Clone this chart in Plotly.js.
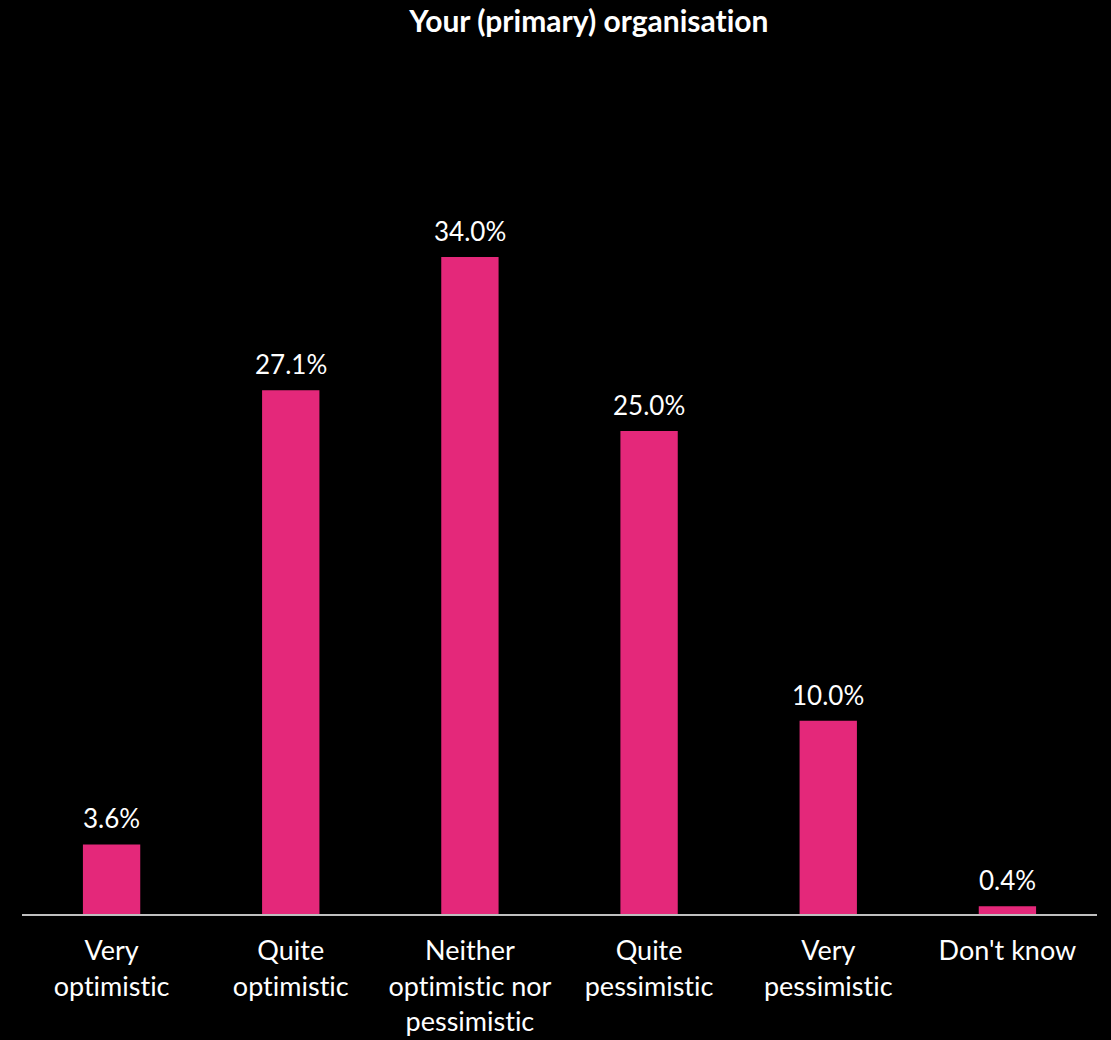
<!DOCTYPE html>
<html>
<head>
<meta charset="utf-8">
<script src="https://cdn.plot.ly/plotly-3.0.1.min.js"></script>
<style>html,body{margin:0;padding:0;background:#000;}#chart{width:1111px;height:1040px;} text{font-variant-ligatures:none !important;font-feature-settings:"liga" 0 !important;}</style>
</head>
<body>
<div id="chart"></div>
<script>
var categories = ["Very<br>optimistic", "Quite<br>optimistic", "Neither<br>optimistic nor<br>pessimistic", "Quite<br>pessimistic", "Very<br>pessimistic", "Don't know"];
var values = [3.6, 27.1, 34.0, 25.0, 10.0, 0.4];
var labels = values.map(function(v){ return v.toFixed(1) + "%"; });

var FONT = "Lato, 'Open Sans', sans-serif";

var trace = {
  type: "bar",
  x: categories,
  y: values,
  marker: {color: "#E4287A"},
  hoverinfo: "none"
};

var annotations = categories.map(function(c, i){
  return {
    x: c, y: values[i], xref: "x", yref: "y",
    text: labels[i], showarrow: false,
    xanchor: "center", yanchor: "bottom", yshift: 8,
    font: {color: "#ffffff", size: 26, family: FONT}
  };
});

var layout = {
  width: 1111,
  height: 1040,
  paper_bgcolor: "#000000",
  plot_bgcolor: "#000000",
  margin: {l: 22, r: 14, t: 141, b: 126},
  bargap: 0.68,
  showlegend: false,
  annotations: annotations,
  title: {
    text: "<b>Your (primary) organisation</b>",
    font: {color: "#ffffff", size: 30, family: FONT},
    x: 0.53, xanchor: "center",
    y: 0.979, yanchor: "middle"
  },
  xaxis: {
    tickfont: {color: "#ffffff", size: 27, family: FONT},
    showline: true, linecolor: "#bfbfbf", linewidth: 2,
    ticks: "", showgrid: false, zeroline: false,
    ticklabelstandoff: 12
  },
  yaxis: {
    range: [0, 40],
    visible: false,
    showgrid: false, zeroline: false
  }
};

Plotly.newPlot("chart", [trace], layout, {displayModeBar: false, staticPlot: true});
</script>
</body>
</html>
